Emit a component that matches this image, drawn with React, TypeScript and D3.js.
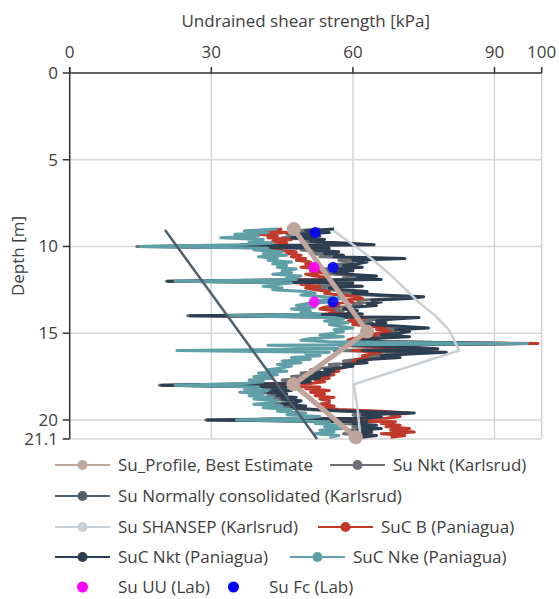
import React from "react";
import * as d3 from "d3";

// ---------- DATA ----------
const xTicks = [0, 30, 60, 90, 100];
const yTicks = [0, 5, 10, 15, 20, 21.1];

// CPT-derived profiles sampled every 0.1 m from 9.0 to 21.0 m
const cptDepth = d3.range(0, 121).map((i) => +(9 + i * 0.1).toFixed(1));

const suNktKarlsrud = [
  53, 48, 52, 46, 50, 45, 51, 49, 55, 61,
  14.2, 52, 49, 54, 51, 55, 53, 67, 57, 60,
  58, 55, 59, 54, 57, 53, 56, 62, 58, 63,
  20.5, 57, 53, 59, 52, 55, 60, 57, 63, 71,
  69, 61, 63, 60, 62, 57, 55, 58, 56, 59,
  25, 71, 65, 62, 64, 60, 67, 73, 66, 69,
  67, 63, 69, 61, 59, 64, 93, 57, 68, 75,
  56, 76, 69, 63, 67, 61, 58, 60, 55, 57,
  54, 51, 53, 49, 52, 47, 50, 45, 48, 44,
  19, 44, 41, 45, 40, 44, 42, 46, 43, 47,
  46, 43, 48, 45, 50, 58, 70, 60, 63, 60,
  28.8, 61, 58, 63, 60, 64, 59, 62, 58, 63, 60,
];

const sucB = [
  45, 41, 46, 40, 44, 42, 47, 43, 46, 44,
  20, 45, 43, 48, 46, 49, 47, 50, 48, 51,
  50, 52, 49, 53, 51, 54, 50, 52, 55, 53,
  25, 51, 49, 53, 50, 52, 55, 54, 57, 61,
  62, 58, 60, 55, 57, 54, 53, 56, 55, 58,
  30, 63, 61, 59, 62, 60, 64, 67, 65, 68,
  66, 62, 65, 60, 59, 63, 99.2, 58, 66, 70,
  60, 66, 64, 62, 63, 61, 60, 62, 58, 59,
  58, 56, 57, 54, 56, 53, 55, 52, 54, 51,
  25, 53, 50, 55, 51, 54, 52, 56, 53, 55,
  55, 53, 56, 54, 57, 66, 72, 68, 70, 67,
  33, 69, 66, 70, 67, 72, 68, 73, 66, 71, 68,
];

const sucNkt = [
  56, 50, 55, 48, 53, 47, 54, 51, 58, 64.5,
  15.5, 55, 52, 57, 54, 58, 56, 71, 60, 63,
  61, 58, 62, 57, 60, 56, 59, 65, 61, 66,
  20.8, 60, 56, 62, 55, 58, 63, 60, 66, 75,
  72, 64, 66, 63, 65, 60, 58, 61, 59, 62,
  25.5, 74, 68, 65, 67, 63, 70, 76, 69, 72,
  70, 66, 72, 64, 62, 67, 95.5, 60, 71, 78,
  62, 79.8, 72, 66, 70, 64, 61, 63, 58, 60,
  57, 54, 56, 52, 55, 50, 53, 48, 51, 47,
  19.5, 46, 43, 47, 42, 46, 44, 48, 45, 49,
  48, 45, 50, 47, 52, 60, 73, 62, 66, 63,
  29.2, 63, 60, 65, 62, 66, 61, 64, 60, 65, 62,
];

const sucNke = [
  44, 37, 42, 35, 40, 32, 41, 38, 43, 36,
  14.9, 42, 39, 45, 41, 46, 40, 44, 42, 47,
  43, 46, 44, 48, 45, 47, 43, 49, 46, 48,
  22.3, 47, 44, 41, 45, 43, 50, 52, 49, 54,
  58, 53, 55, 50, 48, 52, 47, 51, 49, 53,
  33.5, 56, 58, 54, 59, 55, 57, 60, 56, 58,
  56, 53, 58, 51, 49, 55, 97, 42, 54, 57,
  22.7, 55, 50, 53, 47, 51, 45, 49, 44, 47,
  45, 42, 46, 40, 44, 39, 43, 38, 41, 37,
  22.3, 40, 37, 42, 36, 41, 38, 43, 39, 44,
  43, 39, 45, 41, 47, 44, 50, 46, 53, 49,
  35.3, 55, 52, 57, 54, 58, 53, 56, 52, 57, 55,
];

const ncDepth = [9.05, 21.1];
const ncSu = [20.2, 52.4];

const shansepDepth = [9.1, 9.6, 10.2, 10.9, 11.6, 12.4, 13.2, 14.0, 14.8, 15.5, 16.0, 17.95, 19.4, 21.0];
const shansepSu = [55.9, 58.5, 61.6, 64.8, 67.8, 70.9, 73.9, 77.5, 80.3, 81.6, 82.5, 60.2, 61.0, 61.6];

const profileDepth = [9.0, 14.9, 17.95, 21.0];
const profileSu = [47.5, 63.0, 47.4, 60.6];

const uuDepth = [11.2, 13.2];
const uuSu = [51.8, 51.8];
const fcDepth = [9.2, 11.2, 13.2];
const fcSu = [52.0, 55.8, 55.8];

// ---------- STYLE ----------
const C = {
  profile: "#bfa59b",
  nktK: "#6c6f74",
  nc: "#4f5f6b",
  shansep: "#c9d0d6",
  sucB: "#c0392b",
  sucNkt: "#2c3e50",
  sucNke: "#5e9fa8",
  uu: "#ff00ff",
  fc: "#0000ff",
};
const FONT = "'Open Sans', 'Noto Sans', sans-serif";
const TXT = "#404040";

const W = 559;
const H = 599;

export default function App() {
  const x = d3.scaleLinear().domain([0, 100]).range([69.7, 541.7]);
  const y = d3.scaleLinear().domain([0, 21.1]).range([73, 439]);

  const line = (su: number[], depth: number[]) =>
    d3
      .line<number>()
      .x((d) => x(d))
      .y((_, i) => y(depth[i]))(su) || "";

  const jagged = [
    { v: suNktKarlsrud, c: C.nktK },
    { v: sucB, c: C.sucB },
    { v: sucNkt, c: C.sucNkt },
    { v: sucNke, c: C.sucNke },
  ];

  const legendRows: { y: number; items: { x: number; label: string; color: string; line: boolean }[] }[] = [
    {
      y: 465,
      items: [
        { x: 55, label: "Su_Profile, Best Estimate", color: C.profile, line: true },
        { x: 330, label: "Su Nkt (Karlsrud)", color: C.nktK, line: true },
      ],
    },
    { y: 496, items: [{ x: 55, label: "Su Normally consolidated (Karlsrud)", color: C.nc, line: true }] },
    {
      y: 527,
      items: [
        { x: 55, label: "Su SHANSEP (Karlsrud)", color: C.shansep, line: true },
        { x: 318, label: "SuC B (Paniagua)", color: C.sucB, line: true },
      ],
    },
    {
      y: 557,
      items: [
        { x: 55, label: "SuC Nkt (Paniagua)", color: C.sucNkt, line: true },
        { x: 290, label: "SuC Nke (Paniagua)", color: C.sucNke, line: true },
      ],
    },
    {
      y: 587,
      items: [
        { x: 55, label: "Su UU (Lab)", color: C.uu, line: false },
        { x: 206, label: "Su Fc (Lab)", color: C.fc, line: false },
      ],
    },
  ];

  return (
    <svg
      width={W}
      height={H}
      style={{ position: "absolute", left: 0, top: 0, background: "#fff" }}
      fontFamily={FONT}
    >
      {/* grid */}
      {xTicks.filter((t) => t > 0).map((t) => (
        <line key={"gx" + t} x1={x(t)} x2={x(t)} y1={y(0)} y2={y(21.1)} stroke="#d6d6d6" strokeWidth={1.5} />
      ))}
      {yTicks.filter((t) => t > 0).map((t) => (
        <line key={"gy" + t} x1={x(0)} x2={x(100)} y1={y(t)} y2={y(t)} stroke="#d6d6d6" strokeWidth={1.5} />
      ))}

      {/* jagged CPT series */}
      {jagged.map((s, k) => (
        <path key={k} d={line(s.v, cptDepth)} fill="none" stroke={s.c} strokeWidth={3} strokeLinejoin="round" />
      ))}

      {/* NC and SHANSEP */}
      <path d={line(ncSu, ncDepth)} fill="none" stroke={C.nc} strokeWidth={2.5} />
      <path d={line(shansepSu, shansepDepth)} fill="none" stroke={C.shansep} strokeWidth={2.5} />

      {/* best estimate profile */}
      <path d={line(profileSu, profileDepth)} fill="none" stroke={C.profile} strokeWidth={5} />
      {profileSu.map((v, i) => (
        <circle key={"p" + i} cx={x(v)} cy={y(profileDepth[i])} r={7} fill={C.profile} />
      ))}

      {/* lab points */}
      {uuSu.map((v, i) => (
        <circle key={"uu" + i} cx={x(v)} cy={y(uuDepth[i])} r={5.5} fill={C.uu} fillOpacity={0.9} />
      ))}
      {fcSu.map((v, i) => (
        <circle key={"fc" + i} cx={x(v)} cy={y(fcDepth[i])} r={5.5} fill={C.fc} fillOpacity={0.85} />
      ))}

      {/* axes */}
      <line x1={x(0)} x2={x(100)} y1={y(0)} y2={y(0)} stroke="#333" strokeWidth={1.5} />
      <line x1={x(0)} x2={x(0)} y1={y(0) - 6} y2={y(21.1)} stroke="#333" strokeWidth={1.5} />
      {xTicks.map((t) => (
        <g key={"xt" + t}>
          <line x1={x(t)} x2={x(t)} y1={y(0) - 6} y2={y(0)} stroke="#333" strokeWidth={1.5} />
          <text x={x(t)} y={58} textAnchor="middle" fontSize={17} fill={TXT}>
            {t}
          </text>
        </g>
      ))}
      {yTicks.map((t) => (
        <g key={"yt" + t}>
          <line x1={x(0) - 7} x2={x(0)} y1={y(t)} y2={y(t)} stroke="#333" strokeWidth={1.5} />
          <text x={58} y={y(t)} dy="0.35em" textAnchor="end" fontSize={17} fill={TXT}>
            {t}
          </text>
        </g>
      ))}
      <text x={(x(0) + x(100)) / 2} y={27} textAnchor="middle" fontSize={17} fill={TXT}>
        Undrained shear strength [kPa]
      </text>
      <text
        transform={`translate(24, ${(y(0) + y(21.1)) / 2}) rotate(-90)`}
        textAnchor="middle"
        fontSize={17}
        fill={TXT}
      >
        Depth [m]
      </text>

      {/* legend */}
      {legendRows.map((row, r) => (
        <g key={"lr" + r}>
          {row.items.map((it, k) => (
            <g key={k}>
              {it.line && (
                <line x1={it.x} x2={it.x + 55} y1={row.y} y2={row.y} stroke={it.color} strokeWidth={2} />
              )}
              <circle cx={it.x + 27.5} cy={row.y} r={it.line ? 5 : 5.5} fill={it.color} />
              <text x={it.x + 63} y={row.y} dy="0.35em" fontSize={17} fill={TXT}>
                {it.label}
              </text>
            </g>
          ))}
        </g>
      ))}
    </svg>
  );
}
